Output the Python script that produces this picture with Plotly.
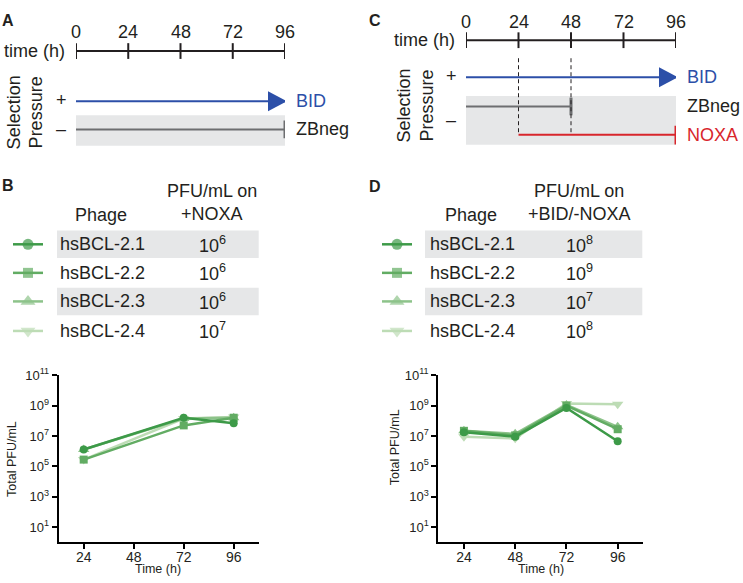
import plotly.graph_objects as go

W, H = 743, 583
FONT = "Liberation Sans, Arial, Helvetica, sans-serif"
INK = "#231f20"

# ---------------- data ----------------
timeline_ticks = [0, 24, 48, 72, 96]
plot_time_ticks = [24, 48, 72, 96]

# schematic A: (start h, end h)
schem_a_bid = (0, 96)
schem_a_zbneg = (0, 96)
# schematic C
schem_c_bid = (0, 96)
schem_c_zbneg = (0, 48)
schem_c_noxa = (24, 96)
schem_c_marks = [24, 48]

phages = ["hsBCL-2.1", "hsBCL-2.2", "hsBCL-2.3", "hsBCL-2.4"]
symbols = ["circle", "square", "triangle-up", "triangle-down"]
colors = ["#3d9a48", "#62ac63", "#8dc38a", "#bddcb5"]

noxa_exponents = [6, 6, 6, 7]          # PFU/mL on +NOXA (table B)
bid_exponents = [8, 9, 7, 8]           # PFU/mL on +BID/-NOXA (table D)

b_time = [24, 72, 96]
b_pfu_21 = [1.3e6, 1.6e8, 7.0e7]
b_pfu_22 = [2.8e5, 5.0e7, 1.6e8]
b_pfu_23 = [1.3e6, 1.4e8, 1.6e8]
b_pfu_24 = [2.8e5, 1.4e8, 1.8e8]

d_time = [24, 48, 72, 96]
d_pfu_21 = [1.8e7, 9.0e6, 7.0e8, 4.5e6]
d_pfu_22 = [2.2e7, 1.1e7, 1.0e9, 2.8e7]
d_pfu_23 = [2.2e7, 1.4e7, 1.1e9, 4.0e7]
d_pfu_24 = [9.0e6, 7.0e6, 1.4e9, 1.25e9]

y_tickvals = [1e1, 1e3, 1e5, 1e7, 1e9, 1e11]
y_ticktext = ["10<sup>1</sup>", "10<sup>3</sup>", "10<sup>5</sup>",
              "10<sup>7</sup>", "10<sup>9</sup>", "10<sup>11</sup>"]

b_series = [b_pfu_21, b_pfu_22, b_pfu_23, b_pfu_24]
d_series = [d_pfu_21, d_pfu_22, d_pfu_23, d_pfu_24]

marker_sizes = [8, 8, 10, 10]
glyph_sizes = [11, 10, 13, 13]


def px(x):
    return x / W


def py(y):
    return 1 - y / H


fig = go.Figure()

# ---------------- line plots ----------------
for i in range(3, -1, -1):
    fig.add_trace(go.Scatter(
        x=b_time, y=b_series[i], mode="lines+markers", xaxis="x", yaxis="y",
        line=dict(color=colors[i], width=2.5),
        marker=dict(symbol=symbols[i], size=marker_sizes[i], color=colors[i]),
        showlegend=False, cliponaxis=False))
    fig.add_trace(go.Scatter(
        x=d_time, y=d_series[i], mode="lines+markers", xaxis="x2", yaxis="y2",
        line=dict(color=colors[i], width=2.5),
        marker=dict(symbol=symbols[i], size=marker_sizes[i], color=colors[i]),
        showlegend=False, cliponaxis=False))

# dummy traces for timeline axes
fig.add_trace(go.Scatter(x=[None], y=[None], xaxis="x3", yaxis="y3", showlegend=False, hoverinfo="skip"))
fig.add_trace(go.Scatter(x=[None], y=[None], xaxis="x4", yaxis="y4", showlegend=False, hoverinfo="skip"))

# legend glyphs in tables (pixel overlay axis x5/y5)
glyph_rows = [239, 268, 297, 327]
for gx in (28, 397):
    for i in range(4):
        fig.add_trace(go.Scatter(
            x=[gx - 15, gx, gx + 15], y=[glyph_rows[i]] * 3, mode="lines+markers",
            xaxis="x5", yaxis="y5",
            line=dict(color=colors[i], width=2.5),
            marker=dict(symbol=symbols[i], size=[0, glyph_sizes[i], 0], color=colors[i],
                        line=dict(width=0)),
            showlegend=False, hoverinfo="skip", cliponaxis=False))

axis_common = dict(showline=True, linewidth=2, linecolor="black", ticks="outside",
                   ticklen=5, tickwidth=2, tickcolor="black", showgrid=False, zeroline=False)
xt = dict(tickfont=dict(family=FONT, size=14, color=INK), ticklabelstandoff=-4)
yt = dict(tickfont=dict(family=FONT, size=13, color=INK))

yb = [py(541.7), py(372)]
fig.update_layout(
    xaxis=dict(domain=[px(58.7), px(258.7)], range=[12, 108], tickvals=plot_time_ticks,
               anchor="y", **axis_common, **xt),
    yaxis=dict(domain=yb, type="log", range=[0, 11], tickvals=y_tickvals, ticktext=y_ticktext,
               anchor="x", **axis_common, **yt),
    xaxis2=dict(domain=[px(438.3), px(643.3)], range=[12, 108], tickvals=plot_time_ticks,
                anchor="y2", **axis_common, **xt),
    yaxis2=dict(domain=yb, type="log", range=[0, 11], tickvals=y_tickvals, ticktext=y_ticktext,
                anchor="x2", **axis_common, **yt),
    xaxis3=dict(domain=[px(76), px(285)], range=[0, 96], visible=False, anchor="y3"),
    yaxis3=dict(domain=[0.75, 1], range=[0, 1], visible=False, anchor="x3"),
    xaxis4=dict(domain=[px(466), px(676)], range=[0, 96], visible=False, anchor="y4"),
    yaxis4=dict(domain=[0.75, 1], range=[0, 1], visible=False, anchor="x4"),
    xaxis5=dict(domain=[0, 1], range=[0, W], visible=False, anchor="y5"),
    yaxis5=dict(domain=[0, 1], range=[H, 0], visible=False, anchor="x5"),
)

shapes = []
ann = []


def text(x, y, s, size=18, color=INK, xanchor="center", xref="paper", bold=False,
         angle=0, xshift=0):
    if xref == "paper":
        x = px(x)
    if bold:
        s = "<b>" + s + "</b>"
    ann.append(dict(x=x, y=py(y), xref=xref, yref="paper", text=s, showarrow=False,
                    xanchor=xanchor, yanchor="middle", textangle=angle, xshift=xshift,
                    font=dict(family=FONT, size=size, color=color)))


def hline(xref, x0, x1, y, color, width, dash="solid"):
    shapes.append(dict(type="line", xref=xref, yref="paper", x0=x0, x1=x1,
                       y0=py(y), y1=py(y), line=dict(color=color, width=width, dash=dash)))


def vline(xref, x, y0, y1, color, width, dash="solid"):
    shapes.append(dict(type="line", xref=xref, yref="paper", x0=x, x1=x,
                       y0=py(y0), y1=py(y1), line=dict(color=color, width=width, dash=dash)))


def arrowhead(xref, x, y, color):
    shapes.append(dict(type="path", xref=xref, yref="paper", xsizemode="pixel",
                       ysizemode="pixel", xanchor=x, yanchor=py(y),
                       path="M -17,-10 L 2,0 L -17,10 Z", fillcolor=color,
                       line=dict(color=color, width=0)))


BLUE = "#2c4fa8"
RED = "#d8262c"
GREY_LINE = "#6d6e70"
BAND = "#e6e7e8"


def schematic(xref, ax_y, tick_lab_y, plus_y, minus_y, rect_y0, rect_y1,
              bid, zb, zb_y, bid_y, sel_x, sel_y, letter_xy, letter):
    # grey band
    shapes.append(dict(type="rect", xref=xref, yref="paper", x0=0, x1=96,
                       y0=py(rect_y1), y1=py(rect_y0), fillcolor=BAND,
                       line=dict(width=0), layer="below"))
    # timeline
    hline(xref, timeline_ticks[0], timeline_ticks[-1], ax_y, INK, 2)
    for t in timeline_ticks:
        vline(xref, t, ax_y - 8, ax_y + 8, INK, 2)
        text(t, tick_lab_y, str(t), xref=xref)
    text(0, ax_y, "time (h)", xref=xref, xanchor="right", xshift=-9)
    # BID
    hline(xref, bid[0], bid[1], bid_y, BLUE, 2)
    arrowhead(xref, bid[1], bid_y, BLUE)
    text(96, bid_y, "BID", color=BLUE, xref=xref, xanchor="left", xshift=9)
    # ZBneg
    hline(xref, zb[0], zb[1], zb_y, GREY_LINE, 2)
    vline(xref, zb[1], zb_y - 9, zb_y + 9, GREY_LINE, 3)
    text(96, zb_y, "ZBneg", xref=xref, xanchor="left", xshift=9)
    # +/- and Selection Pressure
    text(0, plus_y, "+", xref=xref, xshift=-15)
    text(0, minus_y, "–", xref=xref, xshift=-15)
    text(sel_x[0], sel_y, "Selection", angle=-90)
    text(sel_x[1], sel_y, "Pressure", angle=-90)
    text(letter_xy[0], letter_xy[1], letter, size=16, bold=True)


schematic("x3", 42.7, 23, 92, 122, 108, 139, schem_a_bid, schem_a_zbneg, 122.3, 93.7,
          (14, 36), 105, (8, 12), "A")
schematic("x4", 31.7, 13, 68, 113, 88.3, 138, schem_c_bid, schem_c_zbneg, 99, 69.3,
          (404, 427), 98, (375, 12), "C")
# NOXA and dashed markers in C
for t in schem_c_marks:
    vline("x4", t, 50, 128, INK, 1, dash="4px,3px")
hline("x4", schem_c_noxa[0], schem_c_noxa[1], 127.7, RED, 2)
vline("x4", schem_c_noxa[1], 118.5, 137.5, RED, 3)
text(96, 128, "NOXA", color=RED, xref="x4", xanchor="left", xshift=9)


def table(letter_xy, band_x, name_x, val_x, header2, exps):
    text(letter_xy[0], letter_xy[1], letter_xy[2], size=16, bold=True)
    text(val_x, 185, "PFU/mL on")
    text(val_x, 208, header2)
    text(name_x + 43, 209, "Phage")
    for i, (name, e) in enumerate(zip(phages, exps)):
        yc = glyph_rows[i]
        if i % 2 == 0:
            shapes.append(dict(type="rect", xref="paper", yref="paper",
                               x0=px(band_x[0]), x1=px(band_x[1]),
                               y0=py(yc + 14), y1=py(yc - 14), fillcolor=BAND,
                               line=dict(width=0), layer="below"))
        text(name_x, yc, name, xanchor="left")
        text(val_x, yc, "10<sup>%d</sup>" % e)


table((8, 179, "B"), (57, 258.7), 58, 212, "+NOXA", noxa_exponents)
table((375, 180, "D"), (425, 642.3), 428, 579, "+BID/-NOXA", bid_exponents)

# plot axis titles
text(158, 569, "Time (h)", size=12.5)
text(12, 457, "Total PFU/mL", size=12.5, angle=-90)
text(541, 569, "Time (h)", size=12.5)
text(395, 445, "Total PFU/mL", size=12.5, angle=-90)

fig.update_layout(width=W, height=H, margin=dict(l=0, r=0, t=0, b=0),
                  paper_bgcolor="white", plot_bgcolor="rgba(0,0,0,0)",
                  shapes=shapes, annotations=ann, showlegend=False,
                  font=dict(family=FONT, color=INK))

fig.write_html("out.html", config={"displayModeBar": False},
               post_script="document.body.style.margin='0';document.body.style.padding='0';")
